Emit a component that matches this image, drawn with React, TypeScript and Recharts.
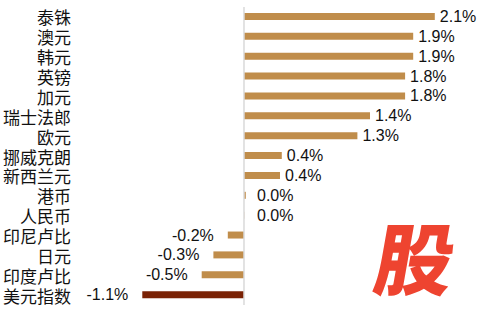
import { BarChart, Bar, XAxis, YAxis, Cell, LabelList, ReferenceLine } from 'recharts';

const currencies = ['泰铢', '澳元', '韩元', '英镑', '加元', '瑞士法郎', '欧元', '挪威克朗', '新西兰元', '港币', '人民币', '印尼卢比', '日元', '印度卢比', '美元指数'];
const changes = [2.12, 1.88, 1.88, 1.79, 1.79, 1.4, 1.26, 0.42, 0.4, 0.02, 0.003, -0.18, -0.34, -0.47, -1.13];

const GOLD = '#C08D4B';
const DARK = '#7A2205';

const data = currencies.map((name, i) => ({ name, value: changes[i] }));

const ValueLabel = (props: any) => {
  const { x, y, width, height, value } = props;
  const left = Math.min(x, x + width);
  const right = Math.max(x, x + width);
  const neg = value < 0;
  return (
    <text
      x={neg ? left - 14 : Math.max(right + 5, 257)}
      y={y + height / 2}
      textAnchor={neg ? 'end' : 'start'}
      dominantBaseline="central"
      fontSize={16}
      fontFamily="'Liberation Sans', Arial, sans-serif"
      fill="#111"
    >
      {value.toFixed(1)}%
    </text>
  );
};

const CategoryTick = (props: any) => {
  const { y, payload } = props;
  return (
    <text
      x={71}
      y={y}
      textAnchor="end"
      dominantBaseline="central"
      fontSize={17}
      fontFamily="'Noto Sans CJK SC', sans-serif"
      fill="#111"
    >
      {payload.value}
    </text>
  );
};

export default function App() {
  return (
    <div style={{ position: 'absolute', left: 0, top: 0, width: 485, height: 313, background: '#fff', overflow: 'hidden' }}>
      <BarChart
        width={485}
        height={313}
        data={data}
        layout="vertical"
        margin={{ top: 7, right: 25, bottom: 8, left: 0 }}
        barCategoryGap={6}
      >
        <XAxis type="number" domain={[-1.911, 2.4]} hide />
        <YAxis type="category" dataKey="name" width={72} axisLine={false} tickLine={false} tick={<CategoryTick />} interval={0} />
        <ReferenceLine x={0} stroke="#D9D9D9" strokeWidth={1.5} />
        <Bar dataKey="value" barSize={7} isAnimationActive={false}>
          {data.map((d, i) => (
            <Cell key={d.name} fill={i === data.length - 1 ? DARK : GOLD} />
          ))}
          <LabelList dataKey="value" content={<ValueLabel />} />
        </Bar>
      </BarChart>
      <div
        style={{
          position: 'absolute',
          left: 377,
          top: 216,
          fontSize: 78,
          lineHeight: '78px',
          fontWeight: 800,
          color: '#EE4430',
          fontFamily: "'Noto Sans CJK SC', sans-serif",
          transform: 'skewX(-10deg)',
        }}
      >
        股
      </div>
    </div>
  );
}
